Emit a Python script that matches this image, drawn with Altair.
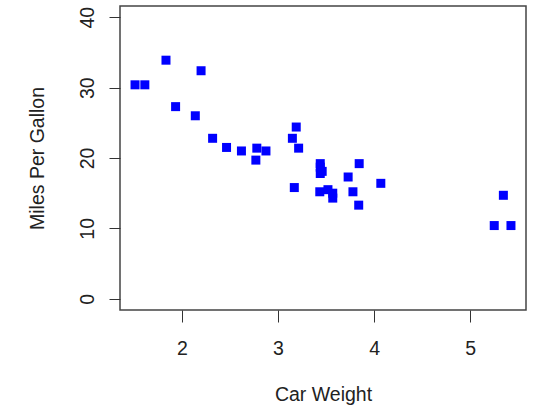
import altair as alt
import pandas as pd

wt = [2.620, 2.875, 2.320, 3.215, 3.440, 3.460, 3.570, 3.190, 3.150, 3.440, 3.440,
      4.070, 3.730, 3.780, 5.250, 5.424, 5.345, 2.200, 1.615, 1.835, 2.465, 3.520,
      3.435, 3.840, 3.845, 1.935, 2.140, 1.513, 3.170, 2.770, 3.570, 2.780]
mpg = [21.0, 21.0, 22.8, 21.4, 18.7, 18.1, 14.3, 24.4, 22.8, 19.2, 17.8,
       16.4, 17.3, 15.2, 10.4, 10.4, 14.7, 32.4, 30.4, 33.9, 21.5, 15.5,
       15.2, 13.3, 19.2, 27.3, 26.0, 30.4, 15.8, 19.7, 15.0, 21.4]
x_ticks = [2, 3, 4, 5]
y_ticks = [0, 10, 20, 30, 40]

df = pd.DataFrame({"wt": wt, "mpg": mpg})
FONT = "Liberation Sans"

chart = alt.Chart(df).mark_square(size=81, color="#0000ff", opacity=1).encode(
    x=alt.X("wt:Q", scale=alt.Scale(domain=[1.3566, 5.5804], nice=False, zero=False),
            axis=alt.Axis(title="Car Weight", values=x_ticks, grid=False, domain=False,
                          tickSize=12, tickColor="#333", labelFontSize=19.5, labelPadding=17,
                          labelColor="#222", titleFontSize=19.5, titleFontWeight="normal",
                          titleColor="#222", titlePadding=28, labelFont=FONT, titleFont=FONT)),
    y=alt.Y("mpg:Q", scale=alt.Scale(domain=[-1.6, 41.6], nice=False, zero=False),
            axis=alt.Axis(title="Miles Per Gallon", values=y_ticks, grid=False, domain=False,
                          tickSize=11, tickColor="#333", labelFontSize=19.5, labelPadding=12,
                          labelAngle=270, labelAlign="center", labelBaseline="bottom",
                          labelColor="#222", titleFontSize=19.5, titleFontWeight="normal",
                          titleColor="#222", titlePadding=30, labelFont=FONT, titleFont=FONT)),
).properties(
    width=406, height=304,
    autosize=alt.AutoSizeParams(type="none"),
    padding={"left": 120, "top": 6, "right": 8, "bottom": 102},
).configure_view(stroke="#444", strokeWidth=1.5)

chart.save("out.html", embed_options={"renderer": "svg", "actions": False})
